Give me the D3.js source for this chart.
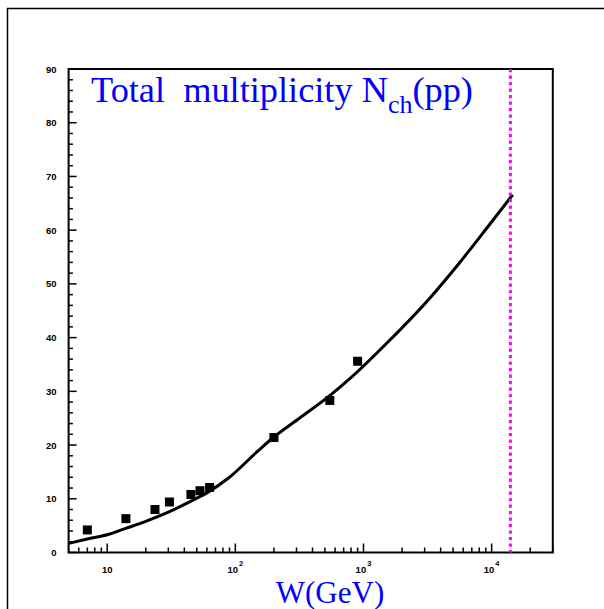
<!DOCTYPE html>
<html>
<head>
<meta charset="utf-8">
<script src="https://cdn.jsdelivr.net/npm/d3@7"></script>
<style>
  body { margin: 0; background: #fff; }
  .tick-label { font-family: "Liberation Sans", Arial, sans-serif; font-weight: bold; font-size: 9.5px; }
  .blue-title { font-family: "Liberation Serif", "Times New Roman", serif; fill: #0000ff; }
</style>
</head>
<body>
<script>
// size of the page
var width = 604;
var height = 609;

// data points: W (GeV) and measured N_ch
var dataW = [7, 14, 23.6, 30.6, 45, 53, 63, 200, 546, 900];
var dataN = [4.2, 6.3, 8.0, 9.4, 10.8, 11.5, 12.1, 21.4, 28.3, 35.6];

// model curve
var curveW = [5, 7, 10, 14, 20, 30, 47, 60, 90, 150, 200, 316, 546, 778, 1600, 3275, 5600, 9600, 14600];
var curveN = [1.7, 2.5, 3.3, 4.5, 5.8, 7.5, 9.8, 11.1, 14.0, 18.9, 21.5, 25.0, 29.2, 32.3, 39.5, 47.3, 53.9, 61.0, 66.6];

// LHC energy marker
var lhcW = 14000;

var yTicks = [0, 10, 20, 30, 40, 50, 60, 70, 80, 90];
var xMajor = [10, 100, 1000, 10000];
var xMajorExp = ["", "2", "3", "4"];

var svg = d3.select("body")
    .append("svg")
    .attr("width", width)
    .attr("height", height);

// outer frame (runs off the right and bottom edges)
svg.append("rect")
    .attr("x", 7.5).attr("y", 8.5)
    .attr("width", 700).attr("height", 700)
    .attr("fill", "none")
    .attr("stroke", "#000")
    .attr("stroke-width", 1.5);

var x = d3.scaleLog()
    .domain([5, 30000])
    .range([68.6, 552.8]);

var y = d3.scaleLinear()
    .domain([0, 90])
    .range([552.5, 69]);

var g = svg.append("g");

// plot frame
g.append("rect")
    .attr("x", x.range()[0]).attr("y", y.range()[1])
    .attr("width", x.range()[1] - x.range()[0])
    .attr("height", y.range()[0] - y.range()[1])
    .attr("fill", "none")
    .attr("stroke", "#000")
    .attr("stroke-width", 2);

// y ticks: major every 10, minor every 2
var yMinor = d3.range(0, 91, 2);
g.selectAll(".ytick")
    .data(yMinor)
    .enter()
    .append("line")
    .attr("x1", x.range()[0])
    .attr("x2", function(d) { return x.range()[0] + (d % 10 == 0 ? 8 : 4.3); })
    .attr("y1", function(d) { return y(d); })
    .attr("y2", function(d) { return y(d); })
    .attr("stroke", "#000")
    .attr("stroke-width", 1.5);

g.selectAll(".ylab")
    .data(yTicks)
    .enter()
    .append("text")
    .attr("class", "tick-label")
    .attr("x", 56.5)
    .attr("y", function(d) { return y(d) + 3.5; })
    .attr("text-anchor", "end")
    .text(function(d) { return d; });

// x ticks: log minors
var xMinor = [];
[1, 10, 100, 1000, 10000].forEach(function(dec) {
  for (var k = 1; k <= 9; k++) {
    var v = dec * k;
    if (v >= 5 && v <= 30000) xMinor.push(v);
  }
});
g.selectAll(".xtick")
    .data(xMinor)
    .enter()
    .append("line")
    .attr("x1", function(d) { return x(d); })
    .attr("x2", function(d) { return x(d); })
    .attr("y1", y.range()[0])
    .attr("y2", function(d) { return y.range()[0] - (xMajor.indexOf(d) >= 0 ? 9 : 5); })
    .attr("stroke", "#000")
    .attr("stroke-width", 1.5);

var xl = g.selectAll(".xlab")
    .data(xMajor)
    .enter()
    .append("text")
    .attr("class", "tick-label")
    .attr("x", function(d) { return x(d); })
    .attr("y", 572.5)
    .attr("text-anchor", "middle");
xl.append("tspan").text("10");
xl.append("tspan")
    .attr("dy", -6.5)
    .attr("dx", 1)
    .style("font-size", "7.5px")
    .text(function(d, i) { return xMajorExp[i]; });

// model curve
var line = d3.line()
    .x(function(d) { return x(d[0]); })
    .y(function(d) { return y(d[1]); })
    .curve(d3.curveMonotoneX);

g.append("path")
    .datum(curveW.map(function(w, i) { return [w, curveN[i]]; }))
    .attr("d", line)
    .attr("fill", "none")
    .attr("stroke", "#000")
    .attr("stroke-width", 3);

// LHC line
g.append("line")
    .attr("x1", x(lhcW)).attr("x2", x(lhcW))
    .attr("y1", y.range()[1]).attr("y2", y.range()[0])
    .attr("stroke", "#ff00ff")
    .attr("stroke-width", 3)
    .attr("stroke-dasharray", "3.3,3.2");

// data squares
g.selectAll(".pt")
    .data(dataW)
    .enter()
    .append("rect")
    .attr("x", function(d) { return x(d) - 4.5; })
    .attr("y", function(d, i) { return y(dataN[i]) - 4.5; })
    .attr("width", 9)
    .attr("height", 9)
    .attr("fill", "#000");

// title
var t = svg.append("text")
    .attr("class", "blue-title")
    .attr("x", 91)
    .attr("y", 101.5)
    .style("font-size", "36.3px")
    .attr("xml:space", "preserve");
t.append("tspan").text("Total  multiplicity N");
t.append("tspan").attr("dy", 11).style("font-size", "26px").text("ch");
t.append("tspan").attr("dy", -11).text("(pp)");

// x axis title
svg.append("text")
    .attr("class", "blue-title")
    .attr("x", 330)
    .attr("y", 603)
    .attr("text-anchor", "middle")
    .style("font-size", "31px")
    .text("W(GeV)");
</script>
</body>
</html>
